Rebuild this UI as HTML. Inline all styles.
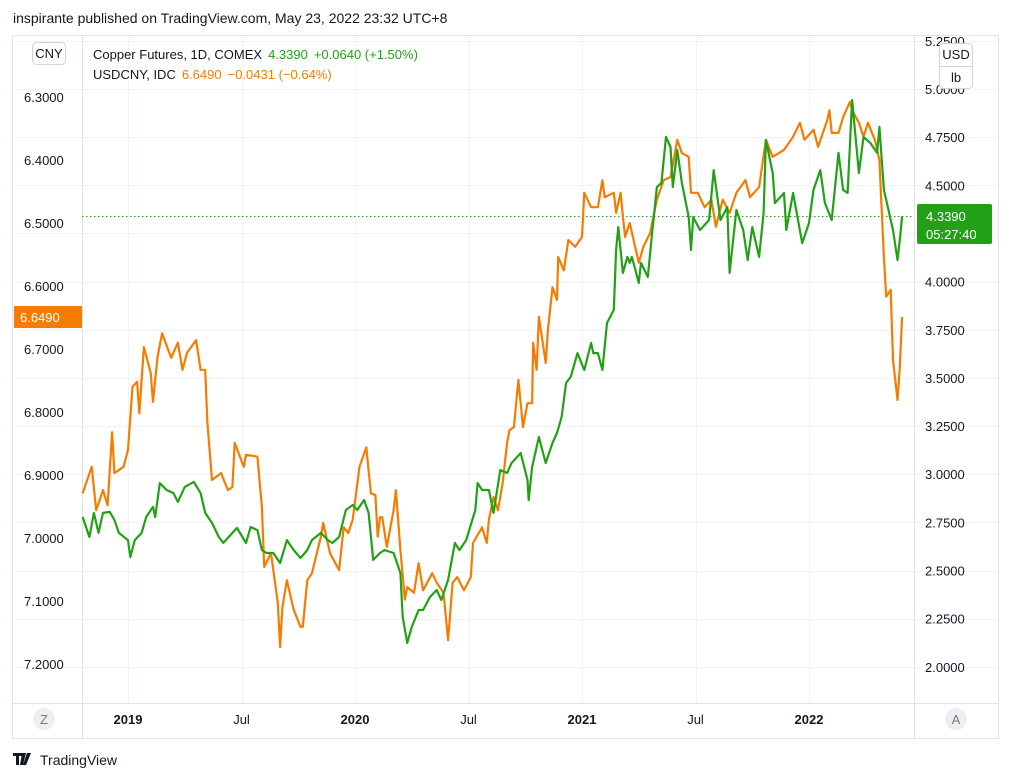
<!DOCTYPE html>
<html><head><meta charset="utf-8"><style>
body{margin:0;background:#fff;width:1011px;height:781px;overflow:hidden;font-family:"Liberation Sans","DejaVu Sans",sans-serif}
svg{position:absolute;left:0;top:0}
</style></head><body>
<svg id="c" width="1011" height="781" font-family="Liberation Sans, DejaVu Sans, sans-serif">
<text x="13" y="23" font-size="14" fill="#131722">inspirante published on TradingView.com, May 23, 2022 23:32 UTC+8</text>
<rect x="12.5" y="35.5" width="986" height="703" fill="#fff" stroke="#e0e3eb"/>
<g id="grid"></g>
<line x1="82.5" y1="35" x2="82.5" y2="738" stroke="#e0e3eb"/>
<line x1="914.5" y1="35" x2="914.5" y2="738" stroke="#e0e3eb"/>
<line x1="12" y1="703.5" x2="998" y2="703.5" stroke="#e0e3eb"/>
<g id="lax"></g>
<g id="rax"></g>
<g id="tax"></g>
<line x1="82" y1="216.5" x2="914" y2="216.5" stroke="#22a116" stroke-dasharray="1.5,2.5"/>
<g id="series"></g>
<rect x="32.5" y="42.5" width="33" height="22" rx="4" fill="#fff" stroke="#d1d4dc"/>
<text x="49" y="58" font-size="13" fill="#131722" text-anchor="middle">CNY</text>
<g>
<text x="93" y="59" font-size="13"><tspan fill="#131722">Copper Futures, 1D, COMEX</tspan><tspan fill="#22a116" dx="6">4.3390</tspan><tspan fill="#22a116" dx="6">+0.0640 (+1.50%)</tspan></text>
<text x="93" y="79" font-size="13"><tspan fill="#131722">USDCNY, IDC</tspan><tspan fill="#f57c00" dx="6">6.6490</tspan><tspan fill="#f57c00" dx="6">−0.0431 (−0.64%)</tspan></text>
</g>
<rect x="939.5" y="43.5" width="33" height="45" rx="4" fill="#fff" stroke="#d1d4dc"/>
<line x1="940" y1="66.5" x2="972" y2="66.5" stroke="#d1d4dc"/>
<text x="956" y="59" font-size="13" fill="#131722" text-anchor="middle">USD</text>
<text x="956" y="82" font-size="13" fill="#131722" text-anchor="middle">lb</text>
<rect x="917" y="204" width="75" height="40" rx="2" fill="#22a116"/>
<text x="926" y="221" font-size="13" fill="#fff">4.3390</text>
<text x="926" y="239" font-size="13" fill="#fff">05:27:40</text>
<rect x="14" y="306" width="68" height="22" fill="#f57c00"/>
<text x="20" y="322" font-size="13" fill="#fff">6.6490</text>
<circle cx="44" cy="719" r="11" fill="#eceef2"/>
<text x="44" y="724" font-size="13" fill="#787b86" text-anchor="middle">Z</text>
<circle cx="956" cy="719" r="11" fill="#eceef2"/>
<text x="956" y="724" font-size="13" fill="#787b86" text-anchor="middle">A</text>
<g>
<path d="M13 753h9v3h-3v9h-3v-9h-3z M22 753h4l-3 12h-3z M27 753h4l-5 12h-3z" fill="#131722"/>
<text x="40" y="765" font-size="14" fill="#131722">TradingView</text>
</g>
</svg>
<script>
const cnyTicks=[6.3,6.4,6.5,6.6,6.7,6.8,6.9,7.0,7.1,7.2];
const cuTicks=[2.0,2.25,2.5,2.75,3.0,3.25,3.5,3.75,4.0,4.25,4.5,4.75,5.0,5.25];
const timeTicks=[2019,2019.5,2020,2020.5,2021,2021.5,2022];
const timeLabels=["2019","Jul","2020","Jul","2021","Jul","2022"];
const cnyT=[2018.80,2018.84,2018.86,2018.89,2018.91,2018.93,2018.94,2018.98,2019.00,2019.02,2019.04,2019.05,2019.07,2019.10,2019.11,2019.13,2019.15,2019.19,2019.22,2019.24,2019.26,2019.30,2019.32,2019.34,2019.35,2019.37,2019.41,2019.44,2019.46,2019.47,2019.51,2019.52,2019.57,2019.59,2019.60,2019.63,2019.66,2019.67,2019.68,2019.70,2019.73,2019.76,2019.77,2019.79,2019.81,2019.85,2019.86,2019.89,2019.93,2019.95,2019.97,2019.99,2020.02,2020.05,2020.07,2020.09,2020.10,2020.11,2020.12,2020.14,2020.17,2020.18,2020.20,2020.22,2020.23,2020.26,2020.28,2020.30,2020.34,2020.36,2020.39,2020.41,2020.43,2020.45,2020.48,2020.51,2020.52,2020.56,2020.58,2020.59,2020.61,2020.63,2020.65,2020.67,2020.68,2020.70,2020.72,2020.74,2020.76,2020.78,2020.785,2020.80,2020.81,2020.84,2020.85,2020.87,2020.89,2020.895,2020.92,2020.94,2020.97,2021.00,2021.01,2021.04,2021.07,2021.09,2021.10,2021.14,2021.15,2021.17,2021.18,2021.19,2021.21,2021.25,2021.27,2021.30,2021.33,2021.36,2021.39,2021.42,2021.44,2021.47,2021.48,2021.51,2021.54,2021.57,2021.59,2021.62,2021.65,2021.68,2021.72,2021.74,2021.78,2021.81,2021.84,2021.89,2021.93,2021.96,2021.98,2022.02,2022.04,2022.08,2022.09,2022.10,2022.13,2022.15,2022.18,2022.19,2022.22,2022.24,2022.26,2022.29,2022.31,2022.33,2022.34,2022.36,2022.37,2022.39,2022.40,2022.41];
const cnyV=[6.929,6.887,6.956,6.924,6.948,6.832,6.897,6.887,6.860,6.760,6.752,6.802,6.697,6.738,6.784,6.713,6.675,6.714,6.690,6.733,6.706,6.686,6.733,6.733,6.817,6.908,6.897,6.924,6.919,6.849,6.887,6.868,6.871,6.951,7.046,7.024,7.103,7.173,7.110,7.067,7.114,7.141,7.141,7.067,7.056,6.998,6.976,7.024,7.051,6.983,6.992,6.971,6.887,6.856,6.929,6.932,6.998,6.967,6.967,7.014,6.956,6.924,7.019,7.098,7.078,7.087,7.040,7.083,7.056,7.071,7.087,7.162,7.071,7.062,7.083,7.062,7.008,6.983,7.008,6.971,6.935,6.956,6.913,6.849,6.829,6.824,6.749,6.824,6.786,6.786,6.690,6.733,6.649,6.722,6.670,6.602,6.622,6.554,6.575,6.527,6.538,6.522,6.452,6.475,6.475,6.432,6.459,6.452,6.484,6.452,6.490,6.522,6.500,6.563,6.538,6.516,6.463,6.432,6.427,6.368,6.389,6.395,6.452,6.452,6.475,6.463,6.506,6.463,6.484,6.452,6.432,6.459,6.443,6.368,6.395,6.384,6.363,6.341,6.368,6.352,6.379,6.337,6.321,6.357,6.357,6.332,6.308,6.321,6.341,6.363,6.341,6.368,6.400,6.554,6.617,6.606,6.717,6.781,6.729,6.649];
const cuT=[2018.80,2018.83,2018.85,2018.87,2018.89,2018.92,2018.94,2018.96,2019.00,2019.01,2019.03,2019.06,2019.08,2019.11,2019.12,2019.14,2019.17,2019.20,2019.22,2019.25,2019.29,2019.32,2019.34,2019.37,2019.40,2019.42,2019.46,2019.48,2019.52,2019.54,2019.57,2019.59,2019.61,2019.64,2019.67,2019.70,2019.73,2019.76,2019.79,2019.81,2019.85,2019.88,2019.90,2019.93,2019.96,2019.99,2020.01,2020.04,2020.06,2020.08,2020.11,2020.13,2020.17,2020.20,2020.21,2020.23,2020.25,2020.28,2020.30,2020.33,2020.36,2020.38,2020.41,2020.44,2020.46,2020.49,2020.53,2020.54,2020.56,2020.59,2020.61,2020.64,2020.67,2020.69,2020.73,2020.76,2020.765,2020.78,2020.81,2020.84,2020.87,2020.89,2020.91,2020.93,2020.95,2020.98,2021.01,2021.04,2021.05,2021.07,2021.09,2021.11,2021.14,2021.15,2021.16,2021.18,2021.20,2021.21,2021.22,2021.25,2021.26,2021.29,2021.31,2021.33,2021.35,2021.37,2021.39,2021.40,2021.42,2021.44,2021.47,2021.48,2021.49,2021.52,2021.56,2021.58,2021.61,2021.64,2021.65,2021.68,2021.71,2021.73,2021.75,2021.78,2021.80,2021.81,2021.84,2021.85,2021.89,2021.90,2021.93,2021.97,2022.00,2022.02,2022.05,2022.07,2022.10,2022.13,2022.15,2022.17,2022.19,2022.22,2022.24,2022.27,2022.30,2022.31,2022.33,2022.34,2022.37,2022.39,2022.40,2022.41];
const cuV=[2.778,2.674,2.799,2.695,2.799,2.804,2.762,2.695,2.658,2.570,2.658,2.695,2.778,2.830,2.778,2.954,2.918,2.902,2.856,2.934,2.960,2.902,2.799,2.747,2.674,2.643,2.695,2.721,2.643,2.726,2.710,2.606,2.591,2.591,2.539,2.658,2.606,2.565,2.606,2.658,2.695,2.658,2.643,2.674,2.814,2.840,2.814,2.866,2.799,2.555,2.591,2.606,2.591,2.487,2.259,2.124,2.207,2.295,2.295,2.362,2.399,2.347,2.451,2.643,2.606,2.658,2.814,2.954,2.918,2.918,2.799,3.022,3.006,3.058,3.110,2.970,2.866,3.037,3.193,3.058,3.162,3.214,3.297,3.474,3.505,3.629,3.541,3.681,3.629,3.629,3.541,3.785,3.853,4.164,4.283,4.045,4.128,4.097,4.128,3.993,4.097,4.024,4.268,4.491,4.512,4.751,4.699,4.491,4.683,4.512,4.335,4.164,4.335,4.268,4.320,4.579,4.320,4.387,4.045,4.372,4.268,4.112,4.283,4.128,4.356,4.735,4.564,4.408,4.460,4.268,4.460,4.200,4.304,4.476,4.579,4.408,4.320,4.668,4.476,4.460,4.943,4.564,4.751,4.720,4.668,4.803,4.476,4.424,4.268,4.112,4.216,4.339];

const NS='http://www.w3.org/2000/svg';
const X=t=>128+(t-2019)*227;
const YL=v=>97+(v-6.3)*630;
const YR=v=>89+(5-v)*192.6;
function mk(tag,attrs,parent){const e=document.createElementNS(NS,tag);for(const k in attrs)e.setAttribute(k,attrs[k]);parent.appendChild(e);return e;}
const grid=document.getElementById('grid'),lax=document.getElementById('lax'),rax=document.getElementById('rax'),tax=document.getElementById('tax'),ser=document.getElementById('series');
cuTicks.forEach(v=>{const y=Math.round(YR(v))+0.5;
 const g=mk('line',{x1:13,x2:998,y1:y,y2:y,stroke:'#f0f3fa'},grid);
 
 
 const t=mk('text',{x:925,y:YR(v)+5,'font-size':13,fill:'#131722'},rax);t.textContent=v.toFixed(4);
 
 });
timeTicks.forEach((v,i)=>{const x=Math.round(X(v))+0.5;
 const g=mk('line',{x1:x,x2:x,y1:36,y2:703,stroke:'#f0f3fa'},grid);
 
 
 const t=mk('text',{x:X(v),y:724,'font-size':13,fill:'#131722','text-anchor':'middle','font-weight':i%2?'normal':'bold'},tax);t.textContent=timeLabels[i];
 
 });
cnyTicks.forEach(v=>{const t=mk('text',{x:24,y:YL(v)+5,'font-size':13,fill:'#131722'},lax);t.textContent=v.toFixed(4);
 
 });
const po=mk('polyline',{points:cnyT.map((t,i)=>X(t).toFixed(1)+','+YL(cnyV[i]).toFixed(1)).join(' '),fill:'none',stroke:'#f57c00','stroke-width':2.2,'stroke-linejoin':'round'},ser);


const pg=mk('polyline',{points:cuT.map((t,i)=>X(t).toFixed(1)+','+YR(cuV[i]).toFixed(1)).join(' '),fill:'none',stroke:'#22a116','stroke-width':2.2,'stroke-linejoin':'round'},ser);


</script>
</body></html>
